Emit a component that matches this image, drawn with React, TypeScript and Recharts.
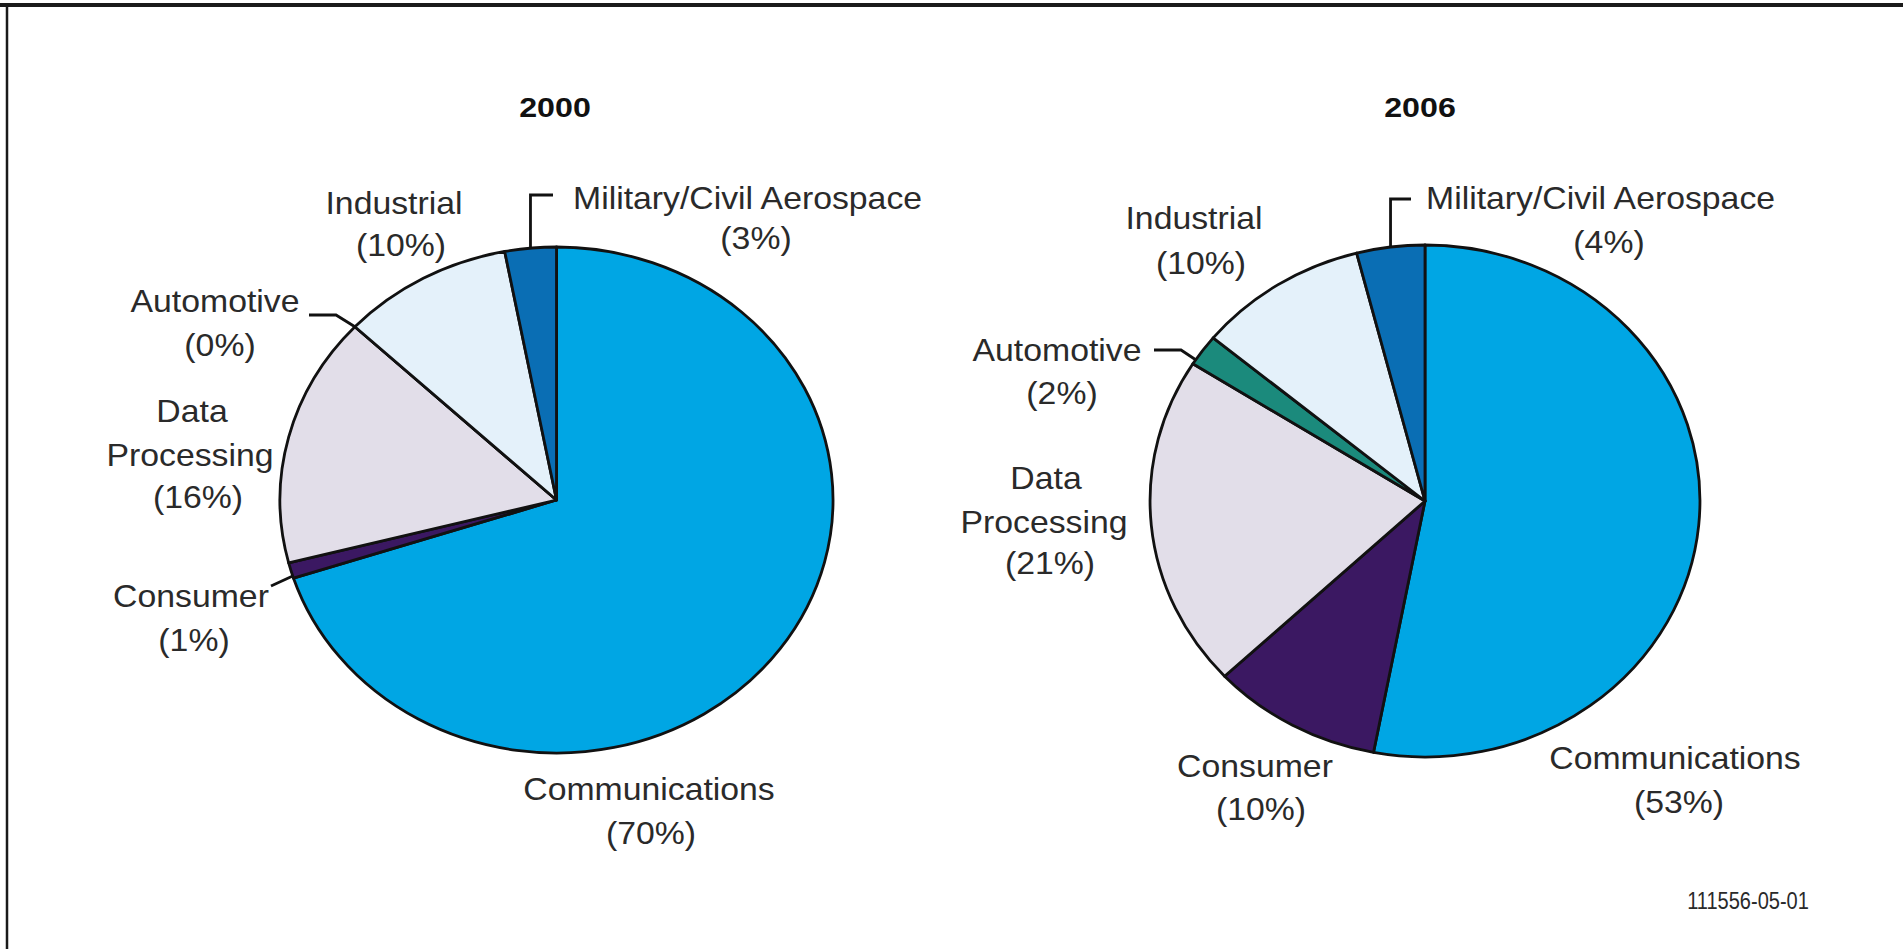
import React from 'react';
import { PieChart, Pie, Customized } from 'recharts';

// ---------- data ----------
const categories = [
  'Communications',
  'Consumer',
  'Data Processing',
  'Automotive',
  'Industrial',
  'Military/Civil Aerospace',
];
const share2000 = [70, 1, 16, 0, 10, 3];
const share2006 = [53, 10, 21, 2, 10, 4];
const years = ['2000', '2006'];
const figureCode = '111556-05-01';

// ---------- styles ----------
const sliceColors = ['#00A6E4', '#3B1862', '#E2DEE9', '#1B8A7C', '#E4F1FA', '#0A6EB4'];
const FONT = '"Liberation Sans", Arial, Helvetica, sans-serif';
const TEXT = '#2a2a2a';
const LABEL_SIZE = 31;
const LABEL_SX = 1.09;

// label text lines per category (line breaks as in the figure)
const labelLines: string[][] = [
  ['Communications'],
  ['Consumer'],
  ['Data', 'Processing'],
  ['Automotive'],
  ['Industrial'],
  ['Military/Civil Aerospace'],
];

// ---------- layout ----------
type Line = { x: number; y: number; anchor: 'start' | 'middle' | 'end' };
type LabelLayout = { lines: Line[]; leader?: number[][]; leaderFromEdge?: boolean; edgeFrac?: number };

const pieGeom = [
  { cx: 556.5, cy: 500, r: 253, sx: 1.093, titleX: 555 },
  { cx: 1425, cy: 501, r: 256, sx: 1.074, titleX: 1420 },
];

const layout2000: LabelLayout[] = [
  { lines: [{ x: 649, y: 789, anchor: 'middle' }, { x: 651, y: 833, anchor: 'middle' }] },
  { lines: [{ x: 191, y: 596, anchor: 'middle' }, { x: 194, y: 640, anchor: 'middle' }], leader: [[271, 586]], edgeFrac: 0.15 },
  { lines: [{ x: 192, y: 411, anchor: 'middle' }, { x: 190, y: 455, anchor: 'middle' }, { x: 198, y: 497, anchor: 'middle' }] },
  { lines: [{ x: 215, y: 301, anchor: 'middle' }, { x: 220, y: 345, anchor: 'middle' }], leader: [[309, 315], [336, 315]] },
  { lines: [{ x: 394, y: 203, anchor: 'middle' }, { x: 401, y: 245, anchor: 'middle' }] },
  { lines: [{ x: 573, y: 198, anchor: 'start' }, { x: 756, y: 238, anchor: 'middle' }], leader: [[553, 195]], leaderFromEdge: true },
];

const layout2006: LabelLayout[] = [
  { lines: [{ x: 1675, y: 758, anchor: 'middle' }, { x: 1679, y: 802, anchor: 'middle' }] },
  { lines: [{ x: 1255, y: 766, anchor: 'middle' }, { x: 1261, y: 809, anchor: 'middle' }] },
  { lines: [{ x: 1046, y: 478, anchor: 'middle' }, { x: 1044, y: 522, anchor: 'middle' }, { x: 1050, y: 563, anchor: 'middle' }] },
  { lines: [{ x: 1057, y: 350, anchor: 'middle' }, { x: 1062, y: 393, anchor: 'middle' }], leader: [[1154, 350], [1181, 350]], edgeFrac: 0.15 },
  { lines: [{ x: 1194, y: 218, anchor: 'middle' }, { x: 1201, y: 263, anchor: 'middle' }] },
  { lines: [{ x: 1426, y: 198, anchor: 'start' }, { x: 1609, y: 242, anchor: 'middle' }], leader: [[1411, 199]], leaderFromEdge: true },
];

const RAD = Math.PI / 180;
const ePoint = (cx: number, cy: number, r: number, sx: number, a: number) => [
  cx + r * sx * Math.cos(-a * RAD),
  cy + r * Math.sin(-a * RAD),
];

function sectorPath(cx: number, cy: number, r: number, sx: number, sa: number, ea: number) {
  const [x0, y0] = ePoint(cx, cy, r, sx, sa);
  const [x1, y1] = ePoint(cx, cy, r, sx, ea);
  const large = Math.abs(ea - sa) > 180 ? 1 : 0;
  const sweep = sa > ea ? 1 : 0;
  return `M${cx},${cy} L${x0},${y0} A${r * sx},${r} 0 ${large} ${sweep} ${x1},${y1} Z`;
}

const makeData = (values: number[]) =>
  categories.map((name, i) => ({ name, value: values[i], color: sliceColors[i] }));

const data2000 = makeData(share2000);
const data2006 = makeData(share2006);

const SText = ({ x, y, anchor, size, sx, weight, fill, children }: any) => (
  <g transform={`translate(${x} ${y}) scale(${sx} 1)`}>
    <text
      x={0}
      y={0}
      textAnchor={anchor}
      dominantBaseline="central"
      fontFamily={FONT}
      fontSize={size}
      fontWeight={weight || 'normal'}
      fill={fill}
    >
      {children}
    </text>
  </g>
);

const makeLabel = (sx: number, layouts: LabelLayout[]) => (props: any) => {
  const { cx, cy, outerRadius, startAngle, endAngle, index, payload, value } = props;
  const lay = layouts[index];
  const frac = lay.edgeFrac ?? 0.5;
  const a = startAngle + frac * (endAngle - startAngle);
  const edge = ePoint(cx, cy, outerRadius, sx, a);
  const texts = [...labelLines[index], `(${value}%)`];
  let leaderPts: number[][] | null = null;
  if (lay.leader) {
    if (lay.leaderFromEdge) {
      const last = lay.leader[lay.leader.length - 1];
      leaderPts = [edge, [edge[0], last[1]], ...lay.leader];
    } else {
      leaderPts = [...lay.leader, edge];
    }
  }
  return (
    <g>
      <path
        d={sectorPath(cx, cy, outerRadius, sx, startAngle, endAngle)}
        fill={payload.color}
        stroke="#111"
        strokeWidth={2.8}
        strokeLinejoin="round"
      />
      {leaderPts && (
        <polyline
          points={leaderPts.map((p) => p.join(',')).join(' ')}
          fill="none"
          stroke="#111"
          strokeWidth={2.8}
        />
      )}
      {texts.map((t, k) => (
        <SText
          key={k}
          x={lay.lines[k].x}
          y={lay.lines[k].y}
          anchor={lay.lines[k].anchor}
          size={LABEL_SIZE}
          sx={LABEL_SX}
          fill={TEXT}
        >
          {t}
        </SText>
      ))}
    </g>
  );
};

const Decorations = () => (
  <g>
    <line x1={0} y1={5} x2={1903} y2={5} stroke="#1a1a1a" strokeWidth={4} />
    <line x1={7} y1={5} x2={7} y2={949} stroke="#1a1a1a" strokeWidth={2.5} />
    {years.map((y, i) => (
      <SText key={y} x={pieGeom[i].titleX} y={107} anchor="middle" size={28} sx={1.15} weight="bold" fill="#111">
        {y}
      </SText>
    ))}
    <SText x={1748} y={901} anchor="middle" size={23} sx={0.87} fill={TEXT}>
      {figureCode}
    </SText>
  </g>
);

export default function App() {
  return (
    <div style={{ position: 'absolute', left: 0, top: 0, width: 1903, height: 949, background: '#fff' }}>
      <PieChart width={1903} height={949} margin={{ top: 0, right: 0, bottom: 0, left: 0 }}>
        <Customized component={<Decorations />} />
        <Pie
          data={data2000}
          dataKey="value"
          nameKey="name"
          cx={pieGeom[0].cx}
          cy={pieGeom[0].cy}
          outerRadius={pieGeom[0].r}
          startAngle={90}
          endAngle={-270}
          fill="none"
          stroke="none"
          label={makeLabel(pieGeom[0].sx, layout2000)}
          labelLine={false}
          isAnimationActive={false}
        />
        <Pie
          data={data2006}
          dataKey="value"
          nameKey="name"
          cx={pieGeom[1].cx}
          cy={pieGeom[1].cy}
          outerRadius={pieGeom[1].r}
          startAngle={90}
          endAngle={-270}
          fill="none"
          stroke="none"
          label={makeLabel(pieGeom[1].sx, layout2006)}
          labelLine={false}
          isAnimationActive={false}
        />
      </PieChart>
    </div>
  );
}
